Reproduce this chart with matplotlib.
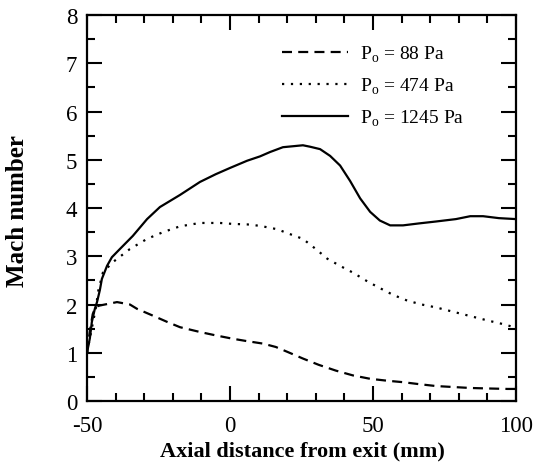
import matplotlib
matplotlib.use('Agg')
import matplotlib.pyplot as plt
from matplotlib.ticker import MultipleLocator

plt.rcParams['font.family'] = 'Liberation Serif'
plt.rcParams['mathtext.fontset'] = 'custom'
plt.rcParams['mathtext.rm'] = 'Liberation Serif'
plt.rcParams['axes.unicode_minus'] = False

# P0 = 88 Pa (dashed)
x_88 = [-50, -49, -48, -47, -45.5, -42, -39.5, -35, -32.5, -27, -22, -17.5, -10.5, -5, 1, 6, 11.5,
        16, 20, 25.5, 31, 37, 43, 49, 55, 60.5, 66, 72, 78, 84, 90, 97, 100]
m_88 = [1.0, 1.45, 1.8, 1.95, 1.98, 2.02, 2.05, 2.0, 1.91, 1.77, 1.64, 1.53, 1.43, 1.36, 1.29, 1.24, 1.19,
        1.12, 1.02, 0.88, 0.75, 0.63, 0.53, 0.46, 0.42, 0.39, 0.35, 0.31, 0.29, 0.27, 0.26, 0.25, 0.25]

# P0 = 474 Pa (dotted)
x_474 = [-50, -49, -48, -47, -46, -44.4, -40.9, -35, -29, -23.4, -17.5, -10.5, -3.5, 1, 6, 10.5,
         16.5, 20, 25.5, 30, 34, 38.5, 43, 48, 52.4, 57, 62, 67, 72, 78, 84, 90, 95, 100]
m_474 = [1.0, 1.3, 1.6, 1.9, 2.3, 2.67, 2.88, 3.15, 3.36, 3.5, 3.62, 3.69, 3.69, 3.67, 3.66, 3.63,
         3.56, 3.48, 3.36, 3.15, 2.95, 2.8, 2.66, 2.48, 2.34, 2.2, 2.08, 2.0, 1.94, 1.85, 1.76, 1.67, 1.6, 1.52]

# P0 = 1245 Pa (solid)
x_1245 = [-50, -49, -48.3, -47.3, -46.5, -45.5, -44.8, -43, -41.3, -38.5, -34, -29, -24.5, -17.5, -10.5,
          -5, 0, 6, 10.5, 14, 18.5, 22, 25.5, 28, 31.5, 35, 38.5, 42, 45.5, 49, 52.4, 56, 60.5, 66, 72,
          79, 84, 88.5, 94, 100]
m_1245 = [1.0, 1.3, 1.64, 1.9, 2.05, 2.3, 2.53, 2.8, 2.98, 3.15, 3.42, 3.77, 4.02, 4.27, 4.54,
          4.7, 4.83, 4.98, 5.07, 5.16, 5.26, 5.28, 5.3, 5.27, 5.22, 5.08, 4.88, 4.56, 4.2, 3.92, 3.74, 3.64, 3.64, 3.68, 3.72,
          3.77, 3.83, 3.83, 3.79, 3.77]

labels = [r'P$_\mathrm{o}$ = 88 Pa', r'P$_\mathrm{o}$ = 474 Pa', r'P$_\mathrm{o}$ = 1245 Pa']

fig = plt.figure(figsize=(5.39, 4.64), dpi=100)
ax = fig.add_axes([87 / 539, 1 - 402 / 464, 429 / 539, 386 / 464])

ax.plot(x_88, m_88, color='black', lw=1.6, dashes=(4.5, 2.8), label=labels[0])
ax.plot(x_474, m_474, color='black', lw=1.6, dashes=(1.0, 3.0), label=labels[1])
ax.plot(x_1245, m_1245, color='black', lw=1.6, label=labels[2])

ax.set_xlim(-50, 100)
ax.set_ylim(0, 8)
ax.xaxis.set_major_locator(MultipleLocator(50))
ax.xaxis.set_minor_locator(MultipleLocator(10))
ax.yaxis.set_major_locator(MultipleLocator(1))
ax.yaxis.set_minor_locator(MultipleLocator(0.5))
ax.tick_params(which='both', direction='in', top=True, right=True, width=1.5, labelsize=16.5)
ax.tick_params(which='major', length=11)
ax.tick_params(which='minor', length=6)
ax.tick_params(axis='x', which='major', pad=10)
ax.tick_params(axis='y', which='major', pad=7)
for s in ax.spines.values():
    s.set_linewidth(1.6)

ax.set_xlabel('Axial distance from exit (mm)', fontsize=16, fontweight='bold')
ax.set_ylabel('Mach number', fontsize=18, fontweight='bold')
ax.xaxis.set_label_coords(0.502, -0.103)
ax.yaxis.set_label_coords(-0.135, 0.495)

ax.legend(loc='upper right', frameon=False, fontsize=14, handlelength=3.4,
          handletextpad=0.6, labelspacing=0.62, bbox_to_anchor=(0.92, 0.972))

fig.savefig('out.png', dpi=100)
